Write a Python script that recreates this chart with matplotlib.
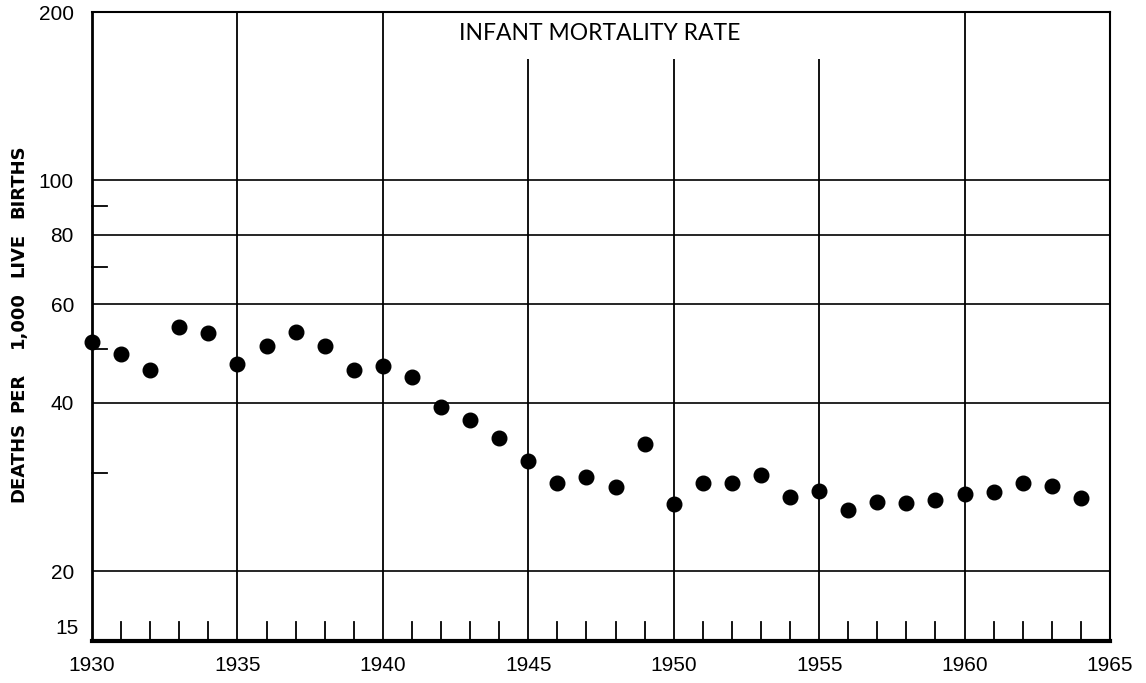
import matplotlib
matplotlib.use("Agg")
import matplotlib.pyplot as plt
from matplotlib.ticker import FixedLocator, NullLocator, NullFormatter

years = list(range(1930, 1965))
rates = [51.3, 48.9, 45.8, 54.7, 53.3, 47.0, 50.5, 53.6, 50.5, 45.7,
         46.5, 44.5, 39.3, 37.2, 34.6, 31.5, 28.8, 29.5, 28.3, 33.7,
         26.4, 28.8, 28.8, 29.7, 27.1, 27.8, 25.7, 26.6, 26.5, 26.8,
         27.5, 27.7, 28.8, 28.4, 27.0]

y_ticks = [20, 40, 60, 80, 100, 200]
y_bottom_label = 15
y_grid = [20, 40, 60, 80, 100]
y_minor = [30, 50, 70, 90]
x_ticks = [1930, 1935, 1940, 1945, 1950, 1955, 1960, 1965]
full_vlines = [1935, 1940, 1960]
short_vlines = [1945, 1950, 1955]
short_top = 165

title = "INFANT MORTALITY RATE"
ylabel_words = ["DEATHS", "PER", "1,000", "LIVE", "BIRTHS"]
ylabel_centers_px = [462, 392, 320, 255, 181]

plt.rcParams['font.family'] = ['Liberation Sans', 'DejaVu Sans']

fig = plt.figure(figsize=(11.46, 6.83), dpi=100)
ax = fig.add_axes([92/1146, 1-641/683, (1110-92)/1146, (641-12)/683])
ax.set_yscale('log')
ax.set_xlim(1930, 1965)
ax.set_ylim(15, 200)

for v in y_grid:
    ax.axhline(v, color='black', lw=1.2, zorder=1)
for x in full_vlines:
    ax.axvline(x, color='black', lw=1.3, zorder=1)
for x in short_vlines:
    ax.vlines(x, 15, short_top, color='black', lw=1.3, zorder=1)

# Year tick marks along the bottom
for yr in years[1:]:
    if yr % 5 != 0:
        ax.plot([yr, yr], [0, 0.031], transform=ax.get_xaxis_transform(),
                color='black', lw=1.3, clip_on=False)
# Short tick marks on the left edge
for v in y_minor:
    ax.plot([0, 0.015], [v, v], transform=ax.get_yaxis_transform(),
            color='black', lw=1.3, clip_on=False)

ax.plot(years, rates, 'o', color='black', markersize=10.5, zorder=3, clip_on=False)

ax.yaxis.set_major_locator(FixedLocator(y_ticks))
ax.yaxis.set_minor_locator(NullLocator())
ax.yaxis.set_minor_formatter(NullFormatter())
ax.set_yticklabels([str(v) for v in y_ticks])
ax.xaxis.set_major_locator(FixedLocator(x_ticks))
ax.set_xticklabels([str(v) for v in x_ticks])
ax.tick_params(axis='both', length=0, labelsize=15, colors='black')
ax.tick_params(axis='y', pad=13)
ax.tick_params(axis='x', pad=11)

ax.annotate(str(y_bottom_label), xy=(0, y_bottom_label),
            xycoords=ax.get_yaxis_transform(), xytext=(-13, 13),
            textcoords='offset pixels', ha='right', va='center', fontsize=15)

ax.spines['left'].set_linewidth(2)
ax.spines['bottom'].set_linewidth(3)
ax.spines['top'].set_linewidth(1.5)
ax.spines['right'].set_linewidth(1.5)

fig.text(600/1146, 1-33/683, title, ha='center', va='center',
         fontsize=16.5, family='Lato')
for w, c in zip(ylabel_words, ylabel_centers_px):
    fig.text(18/1146, 1-c/683, w, rotation=90, ha='center', va='center',
             fontsize=13, fontweight='bold', family='DejaVu Sans')

fig.savefig('out.png', dpi=100)
